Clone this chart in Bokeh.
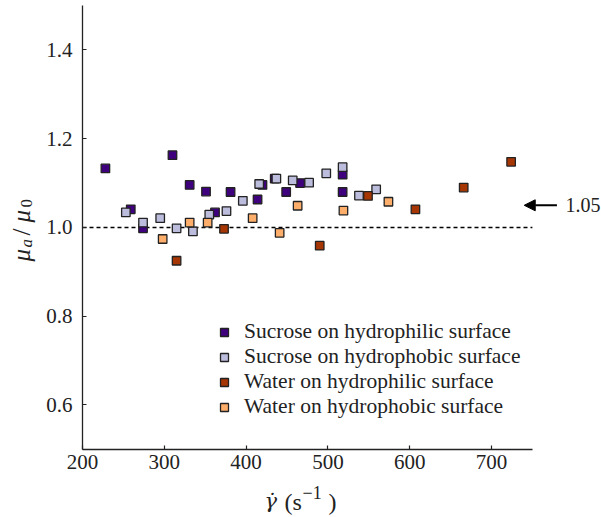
import math
from bokeh.plotting import figure
from bokeh.models import (Range1d, FixedTicker, Legend, LegendItem, Label, Arrow,
                          NormalHead, PrintfTickFormatter)
from bokeh.embed import file_html
from bokeh.resources import INLINE

# ---- data ----
suc_phil_x = [228, 259, 274, 310, 331, 351, 362, 381, 414, 420, 435, 449, 466, 518, 518]
suc_phil_y = [1.133, 1.041, 0.998, 1.163, 1.096, 1.081, 1.034, 1.080, 1.063, 1.096, 1.110, 1.080, 1.100, 1.119, 1.080]

suc_phob_x = [253, 274, 295, 315, 335, 355, 376, 396, 416, 437, 457, 477, 498, 518, 538, 559]
suc_phob_y = [1.034, 1.011, 1.021, 0.998, 0.991, 1.029, 1.037, 1.060, 1.098, 1.110, 1.106, 1.101, 1.122, 1.136, 1.072, 1.086]

wat_phil_x = [315, 373, 490, 549, 607, 666, 724]
wat_phil_y = [0.925, 0.997, 0.959, 1.071, 1.041, 1.090, 1.148]

wat_phob_x = [298, 331, 353, 408, 441, 463, 519, 574]
wat_phob_y = [0.974, 1.011, 1.011, 1.021, 0.988, 1.049, 1.038, 1.058]

series_names = ["Sucrose on hydrophilic surface", "Sucrose on hydrophobic surface",
                "Water on hydrophilic surface", "Water on hydrophobic surface"]
series_colors = ["#3f007d", "#bcbddc", "#a63603", "#fdae6b"]

x_ticks = [200, 300, 400, 500, 600, 700]
y_ticks = [0.6, 0.8, 1.0, 1.2, 1.4]
x_axis_bounds = (200, 750)
y_axis_bounds = (0.5, 1.5)
ref_x = [200, 750]
ref_y = [1.0, 1.0]
mean_ratio = 1.05
mean_label = "1.05"

FONT = "Liberation Serif"
INK = "#222222"

# ---- layout: frame covers whole canvas, axes drawn at fixed locations ----
W, H = 601, 515
PX_X = 0.818      # px per x unit
PX_Y = 443.75     # px per y unit
AX_LEFT = 82      # px of x=200
AX_TOP = 5.1      # px of y=1.5
x0 = x_axis_bounds[0] - AX_LEFT / PX_X
y1 = y_axis_bounds[1] + AX_TOP / PX_Y

def dx(px):
    return x0 + px / PX_X

def dy(py):
    return y1 - py / PX_Y

p = figure(frame_width=W, frame_height=H, output_backend="svg", toolbar_location=None,
           x_range=Range1d(x0, x0 + W / PX_X), y_range=Range1d(y1 - H / PX_Y, y1),
           min_border_left=0, min_border_right=0, min_border_top=0, min_border_bottom=0,
           background_fill_color="white", border_fill_color="white")
p.outline_line_color = None
p.grid.visible = False

for ax in (p.xaxis[0], p.yaxis[0]):
    ax.major_label_text_font = FONT
    ax.major_label_text_font_size = "21px"
    ax.major_label_text_color = INK
    ax.axis_line_color = INK
    ax.axis_line_width = 1.3
    ax.major_tick_line_color = INK
    ax.major_tick_line_width = 1.2
    ax.major_tick_in = 4
    ax.major_tick_out = 0
    ax.minor_tick_line_color = None

p.xaxis[0].fixed_location = y_axis_bounds[0]
p.xaxis[0].ticker = FixedTicker(ticks=x_ticks)
p.xaxis[0].bounds = x_axis_bounds
p.xaxis[0].major_label_standoff = 6

p.yaxis[0].fixed_location = x_axis_bounds[0]
p.yaxis[0].ticker = FixedTicker(ticks=y_ticks)
p.yaxis[0].bounds = y_axis_bounds
p.yaxis[0].formatter = PrintfTickFormatter(format="%.1f")
p.yaxis[0].major_label_standoff = 10

# reference dashed line
p.line(ref_x, ref_y, line_color="black", line_width=1.6, line_dash="4 3")

renderers = []
for xs, ys, col in [(suc_phil_x, suc_phil_y, series_colors[0]),
                    (suc_phob_x, suc_phob_y, series_colors[1]),
                    (wat_phil_x, wat_phil_y, series_colors[2]),
                    (wat_phob_x, wat_phob_y, series_colors[3])]:
    r = p.scatter(xs, ys, marker="square", size=8.5, fill_color=col,
                  line_color=INK, line_width=1.3)
    renderers.append(r)

legend = Legend(items=[LegendItem(label=n, renderers=[r]) for n, r in zip(series_names, renderers)],
                location=(214, 96), padding=0, margin=0, spacing=0,
                glyph_width=20, glyph_height=22, label_height=22, label_standoff=10,
                label_text_font=FONT, label_text_font_size="21.5px", label_text_color=INK,
                border_line_color=None, background_fill_alpha=0)
p.add_layout(legend, "center")

# arrow with annotation
p.add_layout(Arrow(end=NormalHead(size=11, fill_color="black", line_color="black", line_width=1),
                   x_start=780, y_start=mean_ratio, x_end=740, y_end=mean_ratio,
                   line_width=2, line_color="black"))
p.add_layout(Label(x=dx(565), y=mean_ratio, text=mean_label, text_font=FONT, text_font_size="20px",
                   text_color=INK, text_baseline="middle", text_align="left"))

# ---- axis titles ----
def txt(px, py, s, size, style="normal", angle=0.0, font=FONT):
    p.add_layout(Label(x=dx(px), y=dy(py), text=s, text_font=font, text_font_style=style,
                       text_font_size=size, text_color=INK, text_align="left",
                       text_baseline="middle", angle=angle))

# x title: gamma-dot (s^-1)
txt(264, 500, "γ̇", "21px", "italic", font="DejaVu Serif")
txt(284, 501, "(s", "24px")
txt(302, 492, "−1", "18px")
txt(328, 501, ")", "24px")

# y title: mu_a / mu_0 (rotated, reading upward)
up = math.pi / 2
txt(21, 261, "μ", "25px", "italic", up)
txt(26, 247, "a", "17px", "italic", up)
txt(21, 235, "/", "25px", "normal", up)
txt(21, 222, "μ", "25px", "italic", up)
txt(26, 207, "0", "17px", "normal", up)

open("out.html", "w").write(file_html(p, INLINE))
